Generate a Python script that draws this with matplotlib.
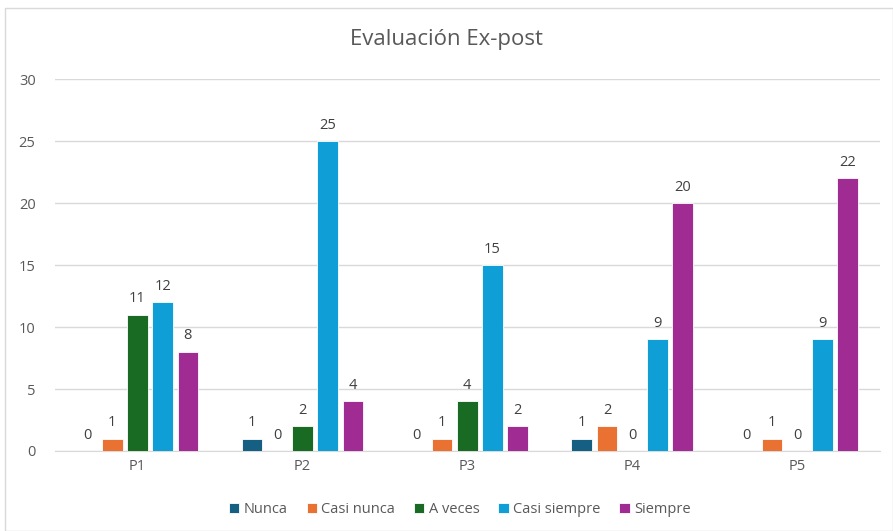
import matplotlib.pyplot as plt
import numpy as np
from matplotlib.patches import Rectangle

plt.rcParams['font.family'] = ['Open Sans', 'DejaVu Sans']

preguntas = ["P1", "P2", "P3", "P4", "P5"]
series = ["Nunca", "Casi nunca", "A veces", "Casi siempre", "Siempre"]
nunca = [0, 1, 0, 1, 0]
casi_nunca = [1, 0, 1, 2, 1]
a_veces = [11, 2, 4, 0, 0]
casi_siempre = [12, 25, 15, 9, 9]
siempre = [8, 4, 2, 20, 22]
valores = [nunca, casi_nunca, a_veces, casi_siempre, siempre]
colores = ["#156082", "#E97132", "#196B24", "#0F9ED5", "#A02B93"]

fig = plt.figure(figsize=(8.93, 5.31), dpi=100)
fig.patches.append(Rectangle((0.006, 0.0), 0.994, 0.985, transform=fig.transFigure,
                             fill=False, edgecolor="#D9D9D9", linewidth=1))
ax = fig.add_axes([0.0616, 0.1507, 0.9234, 0.7003])

x = np.arange(len(preguntas))
paso = 0.153
ancho = 0.125
for i, (nombre, vals, col) in enumerate(zip(series, valores, colores)):
    barras = ax.bar(x + (i - 2) * paso, vals, ancho, color=col, label=nombre,
                    edgecolor="white", linewidth=0.6, zorder=3)
    ax.bar_label(barras, padding=6, fontsize=10.5, color="#404040")

ax.set_ylim(0, 30)
ax.set_xlim(-0.5, 4.5)
ax.set_yticks(range(0, 31, 5))
ax.set_xticks(x)
ax.set_xticklabels(preguntas)
ax.grid(axis="y", color="#D9D9D9", linewidth=1, zorder=0)
for s in ["top", "right", "left"]:
    ax.spines[s].set_visible(False)
ax.spines["bottom"].set_color("#D9D9D9")
ax.tick_params(axis="both", length=0, colors="#595959", labelsize=10.5)
ax.tick_params(axis="y", pad=14)
ax.tick_params(axis="x", pad=6)

fig.suptitle("Evaluación Ex-post", y=0.945, fontsize=16, color="#595959")
fig.legend(loc="center", bbox_to_anchor=(0.515, 0.04), ncol=5, frameon=False,
           fontsize=10.5, labelcolor="#595959", handlelength=0.7, handleheight=0.7,
           handletextpad=0.3, columnspacing=1.3)

fig.savefig("out.png", dpi=100)
